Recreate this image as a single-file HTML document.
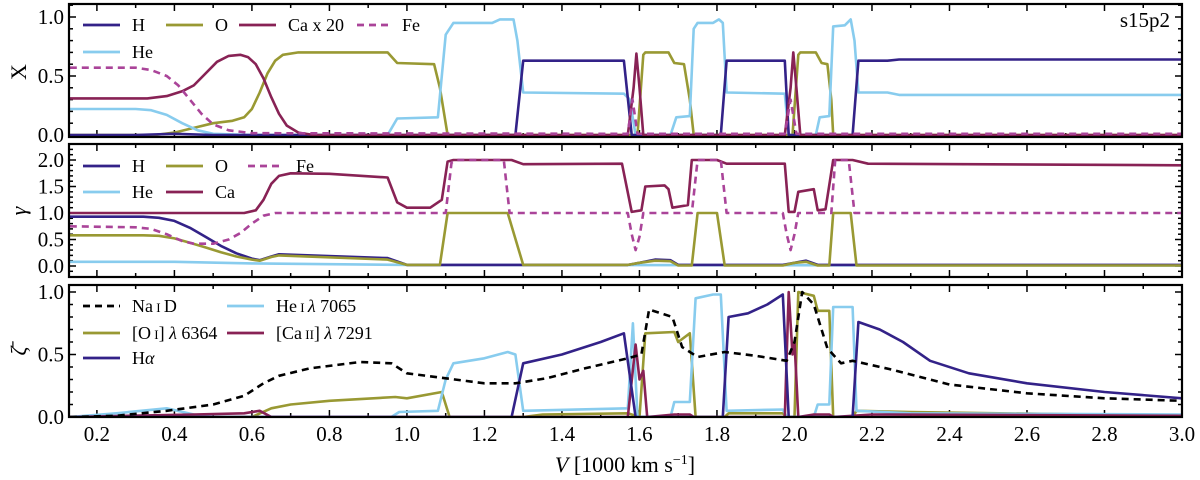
<!DOCTYPE html>
<html><head><meta charset="utf-8">
<style>
html,body{margin:0;padding:0;background:#fff;}
svg{display:block;font-family:"Liberation Serif","DejaVu Serif",serif;}
</style></head>
<body>
<svg id="chart" width="1200" height="480" viewBox="0 0 1200 480" xmlns="http://www.w3.org/2000/svg">
<g id="plot"></g>
</svg>
<script>
// ---------- data (V in 1000 km/s, values) ----------
const xTicks = [0.2,0.4,0.6,0.8,1.0,1.2,1.4,1.6,1.8,2.0,2.2,2.4,2.6,2.8,3.0];
const xTickLabels = ["0.2","0.4","0.6","0.8","1.0","1.2","1.4","1.6","1.8","2.0","2.2","2.4","2.6","2.8","3.0"];
const yTicksX = [0.0,0.5,1.0];
const yTicksG = [0.0,0.5,1.0,1.5,2.0];
const yTicksZ = [0.0,0.5,1.0];

// Panel 1: mass fractions X
const xH  = [[0.13,0],[0.3,0],[0.4,0.01],[0.5,0],[1.28,0],[1.30,0.63],[1.56,0.63],[1.58,0],[1.81,0],[1.825,0.63],[1.975,0.63],[1.985,0],[2.15,0],[2.165,0.63],[2.24,0.63],[2.27,0.64],[3.0,0.64]];
const xHe = [[0.13,0.22],[0.3,0.22],[0.34,0.21],[0.38,0.17],[0.42,0.1],[0.46,0.04],[0.5,0.01],[0.6,0],[0.95,0],[0.975,0.14],[1.08,0.15],[1.10,0.85],[1.12,0.95],[1.22,0.95],[1.24,0.98],[1.275,0.98],[1.285,0.8],[1.30,0.36],[1.56,0.35],[1.575,0.3],[1.59,0],[1.68,0],[1.695,0.15],[1.73,0.16],[1.74,0.9],[1.75,0.95],[1.79,0.95],[1.805,0.98],[1.815,0.95],[1.825,0.36],[1.975,0.35],[1.985,0],[2.055,0],[2.065,0.15],[2.09,0.16],[2.10,0.92],[2.13,0.93],[2.145,0.98],[2.155,0.8],[2.165,0.36],[2.24,0.36],[2.27,0.34],[3.0,0.34]];
const xO  = [[0.13,0],[0.35,0],[0.4,0.02],[0.45,0.06],[0.5,0.1],[0.55,0.12],[0.58,0.15],[0.6,0.22],[0.62,0.36],[0.64,0.52],[0.66,0.63],[0.68,0.68],[0.72,0.7],[0.95,0.7],[0.975,0.61],[1.07,0.6],[1.085,0.4],[1.105,0],[1.595,0],[1.61,0.68],[1.615,0.7],[1.675,0.7],[1.69,0.61],[1.715,0.6],[1.73,0.3],[1.74,0],[1.995,0],[2.01,0.68],[2.015,0.7],[2.055,0.7],[2.07,0.61],[2.085,0.6],[2.095,0.3],[2.10,0],[3.0,0]];
const xCa = [[0.13,0.31],[0.33,0.31],[0.38,0.33],[0.42,0.37],[0.45,0.42],[0.48,0.52],[0.51,0.62],[0.54,0.67],[0.57,0.68],[0.59,0.66],[0.61,0.6],[0.63,0.48],[0.65,0.32],[0.67,0.18],[0.69,0.08],[0.72,0.02],[0.76,0],[1.57,0],[1.585,0.4],[1.592,0.69],[1.60,0.4],[1.61,0],[1.975,0],[1.99,0.4],[1.997,0.7],[2.005,0.4],[2.015,0],[3.0,0]];
const xFe = [[0.13,0.57],[0.3,0.57],[0.34,0.55],[0.38,0.5],[0.41,0.42],[0.44,0.3],[0.47,0.18],[0.5,0.09],[0.54,0.04],[0.6,0.015],[1.57,0.01],[1.582,0.3],[1.595,0.01],[1.975,0.01],[1.99,0.3],[2.005,0.01],[3.0,0.01]];

// Panel 2: gamma
const gH  = [[0.13,0.93],[0.32,0.93],[0.36,0.91],[0.4,0.85],[0.44,0.72],[0.48,0.55],[0.52,0.38],[0.56,0.24],[0.6,0.14],[0.62,0.11],[0.65,0.18],[0.67,0.22],[0.95,0.15],[1.0,0.02],[1.57,0.02],[1.6,0.06],[1.64,0.12],[1.68,0.11],[1.7,0.02],[1.97,0.02],[2.0,0.06],[2.03,0.1],[2.06,0.02],[3.0,0.02]];
const gHe = [[0.13,0.08],[0.4,0.08],[0.6,0.05],[1.0,0.02],[3.0,0.01]];
const gO  = [[0.13,0.58],[0.32,0.58],[0.36,0.57],[0.4,0.52],[0.44,0.44],[0.48,0.35],[0.52,0.26],[0.56,0.18],[0.6,0.12],[0.62,0.1],[0.65,0.17],[0.67,0.2],[0.95,0.12],[1.0,0.02],[1.085,0.02],[1.105,1.0],[1.26,1.0],[1.30,0.02],[1.57,0.02],[1.6,0.06],[1.64,0.1],[1.68,0.09],[1.70,0.01],[1.735,0.01],[1.75,1.0],[1.80,1.0],[1.82,0.01],[1.97,0.01],[2.0,0.06],[2.03,0.08],[2.06,0.01],[2.09,0.01],[2.10,1.0],[2.145,1.0],[2.16,0.01],[3.0,0.01]];
const gCa = [[0.13,1.0],[0.58,1.0],[0.61,1.05],[0.63,1.25],[0.65,1.55],[0.67,1.7],[0.7,1.75],[0.8,1.74],[0.95,1.67],[0.975,1.2],[1.0,1.1],[1.06,1.1],[1.09,1.25],[1.105,1.97],[1.12,2.0],[1.27,2.0],[1.30,1.92],[1.555,1.93],[1.58,1.02],[1.605,1.05],[1.615,1.5],[1.665,1.52],[1.675,1.45],[1.685,1.1],[1.725,1.15],[1.735,2.0],[1.80,2.0],[1.825,1.93],[1.975,1.93],[1.985,1.02],[2.0,1.02],[2.01,1.4],[2.05,1.45],[2.06,1.05],[2.08,1.07],[2.10,2.0],[2.15,2.0],[2.19,1.93],[3.0,1.9]];
const gFe = [[0.13,0.75],[0.3,0.73],[0.34,0.7],[0.38,0.6],[0.42,0.47],[0.45,0.42],[0.5,0.42],[0.54,0.5],[0.57,0.62],[0.6,0.8],[0.63,0.95],[0.66,1.0],[1.10,1.0],[1.115,1.95],[1.13,2.0],[1.25,2.0],[1.265,1.0],[1.57,1.0],[1.58,0.6],[1.59,0.3],[1.60,0.55],[1.61,1.0],[1.735,1.0],[1.75,2.0],[1.81,2.0],[1.825,1.0],[1.97,1.0],[1.98,0.6],[1.99,0.3],[2.0,0.6],[2.01,1.0],[2.095,1.0],[2.105,2.0],[2.14,2.0],[2.155,1.0],[3.0,1.0]];

// Panel 3: zeta
const zNa  = [[0.13,0],[0.25,0.01],[0.38,0.05],[0.5,0.1],[0.58,0.17],[0.63,0.27],[0.67,0.33],[0.75,0.39],[0.88,0.44],[0.96,0.43],[1.0,0.35],[1.1,0.31],[1.2,0.27],[1.28,0.27],[1.36,0.31],[1.46,0.39],[1.57,0.47],[1.605,0.5],[1.625,0.86],[1.685,0.8],[1.71,0.56],[1.75,0.48],[1.82,0.52],[1.9,0.49],[1.98,0.45],[2.0,0.6],[2.02,1.0],[2.05,0.9],[2.085,0.55],[2.12,0.43],[2.15,0.45],[2.25,0.38],[2.4,0.26],[2.6,0.19],[2.8,0.15],[3.0,0.13]];
const zHe  = [[0.13,0],[0.25,0.03],[0.38,0.07],[0.45,0.02],[0.5,0],[0.96,0],[0.98,0.04],[1.08,0.05],[1.10,0.3],[1.12,0.43],[1.2,0.47],[1.26,0.52],[1.28,0.5],[1.30,0.05],[1.57,0.07],[1.583,0.75],[1.595,0],[1.68,0],[1.69,0.12],[1.73,0.12],[1.745,0.95],[1.79,0.98],[1.81,0.98],[1.825,0.05],[1.97,0.06],[1.98,0],[2.05,0],[2.06,0.1],[2.09,0.1],[2.10,0.88],[2.15,0.88],[2.16,0.05],[2.3,0.03],[3.0,0.02]];
const zO   = [[0.13,0],[0.6,0],[0.65,0.07],[0.7,0.1],[0.8,0.13],[0.97,0.16],[1.0,0.15],[1.09,0.2],[1.11,0],[1.3,0],[1.35,0.02],[1.57,0.03],[1.6,0],[1.615,0.67],[1.69,0.68],[1.70,0.6],[1.73,0.67],[1.745,0],[1.82,0],[1.83,0.03],[1.97,0.03],[1.98,0],[2.0,0],[2.01,1.0],[2.05,0.97],[2.06,0.85],[2.09,0.85],[2.10,0],[2.15,0],[2.16,0.05],[2.3,0.04],[3.0,0.01]];
const zCa  = [[0.13,0],[0.45,0.02],[0.58,0.03],[0.62,0.05],[0.65,0],[1.57,0],[1.59,0.58],[1.60,0.3],[1.61,0.37],[1.62,0],[1.69,0.02],[1.73,0.02],[1.74,0],[1.975,0],[1.985,1.0],[1.995,0.5],[2.0,0.6],[2.01,0],[2.05,0.02],[2.09,0.02],[2.10,0],[2.2,0.02],[3.0,0.01]];
const zHa  = [[0.13,0],[1.27,0],[1.30,0.43],[1.4,0.5],[1.5,0.6],[1.56,0.67],[1.59,0],[1.815,0],[1.83,0.8],[1.88,0.83],[1.93,0.9],[1.97,0.98],[1.985,0],[2.15,0],[2.165,0.76],[2.22,0.7],[2.28,0.6],[2.35,0.45],[2.45,0.35],[2.6,0.27],[2.8,0.2],[3.0,0.15]];

// ---------- layout ----------
const NS="http://www.w3.org/2000/svg";
const L=69,R=1182;
const xmin=0.128,xmax=3.0;
function xs(v){return L+(v-xmin)/(xmax-xmin)*(R-L);}
const panels=[
 {name:"x-panel",top:4,bot:137,y0:135,k:118,ticks:yTicksX,lab:v=>v.toFixed(1),minor:0.1,ylo:-0.017,yhi:1.1},
 {name:"gamma-panel",top:144,bot:277,y0:266,k:53,ticks:yTicksG,lab:v=>v.toFixed(1),minor:0.1,ylo:-0.2,yhi:2.3},
 {name:"zeta-panel",top:285,bot:417,y0:417,k:125,ticks:yTicksZ,lab:v=>v.toFixed(1),minor:0.1,ylo:0,yhi:1.05}
];
const C={H:"#332288",He:"#88CCEE",O:"#999933",Ca:"#882255",Fe:"#AA4499",Na:"#000000"};
const g=document.getElementById("plot");
function el(t,a,p){const e=document.createElementNS(NS,t);for(const k in a)e.setAttribute(k,a[k]);(p||g).appendChild(e);return e;}

panels.forEach((P,pi)=>{
  const ys=v=>P.y0-v*P.k;
  const pg=el("g",{});
  
  
  const clipId="clip"+pi;
  const cp=el("clipPath",{id:clipId},pg);
  el("rect",{x:L,y:P.top,width:R-L,height:P.bot-P.top},cp);
  P.ys=ys;P.g=pg;P.clip=clipId;
  for(let v=0.2;v<=3.0001;v+=0.1){
    const major=Math.abs(v*10%2)<0.01||Math.abs(v*10%2-2)<0.01;
    const x=xs(v),len=major?7:4;
    el("line",{x1:x,x2:x,y1:P.bot,y2:P.bot-len,stroke:"#000","stroke-width":1.5},pg);
    el("line",{x1:x,x2:x,y1:P.top,y2:P.top+len,stroke:"#000","stroke-width":1.5},pg);
  }
  for(let v=Math.ceil(P.ylo*10)/10;v<=P.yhi+1e-6;v+=P.minor){
    const y=ys(v);
    if(y<P.top+1||y>P.bot-0.5)continue;
    const major=P.ticks.some(t=>Math.abs(t-v)<1e-6);
    const len=major?7:4;
    el("line",{x1:L,x2:L+len,y1:y,y2:y,stroke:"#000","stroke-width":1.5},pg);
    el("line",{x1:R,x2:R-len,y1:y,y2:y,stroke:"#000","stroke-width":1.5},pg);
  }
  P.ticks.forEach(t=>{
    const tx=el("text",{x:L-5,y:ys(t)+7,"text-anchor":"end","font-size":21,fill:"#000"},pg);
    tx.textContent=P.lab(t);
    
    
  });
});

function series(P,data,color,name,dashed){
  const d=data.map((p,i)=>(i?"L":"M")+xs(p[0]).toFixed(1)+","+P.ys(p[1]).toFixed(1)).join("");
  const a={d:d,fill:"none",stroke:color,"stroke-width":2.6,"stroke-linejoin":"round","clip-path":"url(#"+P.clip+")"};
  if(dashed)a["stroke-dasharray"]="7,5";
  const p=el("path",a,P.g);
  
  
}
const [P1,P2,P3]=panels;
series(P1,xO,C.O,"x-o-line");
series(P1,xHe,C.He,"x-he-line");
series(P1,xH,C.H,"x-h-line");
series(P1,xCa,C.Ca,"x-ca-line");
series(P1,xFe,C.Fe,"x-fe-line",true);
series(P2,gHe,C.He,"gamma-he-line");
series(P2,gH,C.H,"gamma-h-line");
series(P2,gO,C.O,"gamma-o-line");
series(P2,gCa,C.Ca,"gamma-ca-line");
series(P2,gFe,C.Fe,"gamma-fe-line",true);
series(P3,zO,C.O,"zeta-oi-line");
series(P3,zHe,C.He,"zeta-hei-line");
series(P3,zCa,C.Ca,"zeta-caii-line");
series(P3,zHa,C.H,"zeta-halpha-line");
series(P3,zNa,C.Na,"zeta-naid-line",true);

panels.forEach(P=>{
  const r=el("rect",{x:L,y:P.top,width:R-L,height:P.bot-P.top,fill:"none",stroke:"#000","stroke-width":2.2},P.g);
  
  
});
xTicks.forEach((v,i)=>{
  const t=el("text",{x:xs(v),y:441,"text-anchor":"middle","font-size":21,fill:"#000"});
  t.textContent=xTickLabels[i];
  
  
});

function legend(items,name){
  const lg=el("g",{});
  
  
  items.forEach(it=>{
    const a={x1:it[0],x2:it[1],y1:it[2],y2:it[2],stroke:it[4],"stroke-width":2.8};
    if(it[5])a["stroke-dasharray"]="7,5";
    el("line",a,lg);
    const t=el("text",{x:it[1]+12,y:it[2]+6,"font-size":18,fill:"#000"},lg);
    t.innerHTML=it[3];
    
    
  });
}
legend([[83,120,25,"H",C.H],[166,203,25,"O",C.O],[239,276,25,"Ca x 20",C.Ca],[357,390,25,"Fe",C.Fe,1],[83,120,52,"He",C.He]],"x-legend");
legend([[83,120,166,"H",C.H],[166,203,166,"O",C.O],[248,284,166,"Fe",C.Fe,1],[83,120,192,"He",C.He],[166,203,192,"Ca",C.Ca]],"gamma-legend");
legend([[83,120,306,"Na<tspan font-size='13'> I </tspan>D",C.Na,1],[227,264,306,"He<tspan font-size='13'> I </tspan><tspan font-style='italic'>λ</tspan> 7065",C.He],
        [83,120,333,"[O<tspan font-size='13'> I</tspan>] <tspan font-style='italic'>λ</tspan> 6364",C.O],[227,264,333,"[Ca<tspan font-size='13'> II</tspan>] <tspan font-style='italic'>λ</tspan> 7291",C.Ca],
        [83,120,358,"H<tspan font-style='italic'>α</tspan>",C.H]],"zeta-legend");

const svg=document.getElementById("chart");
function lab(txt,x,y,rot,name,italic){
  const t=document.createElementNS(NS,"text");
  t.setAttribute("x",x);t.setAttribute("y",y);t.setAttribute("font-size",22);
  t.setAttribute("text-anchor","middle");
  if(italic)t.setAttribute("font-style","italic");
  if(rot)t.setAttribute("transform","rotate(-90 "+x+" "+y+")");
  t.innerHTML=txt;
  
  
  svg.appendChild(t);
}
lab("X",26,72,true,"x-panel-y-title");
lab("γ",26,211,true,"gamma-panel-y-title",true);
lab("ζ̄",26,351,true,"zeta-panel-y-title",true);
lab("<tspan font-style='italic'>V</tspan> [1000 km s<tspan dy='-8' font-size='14'>−1</tspan><tspan dy='8'>]</tspan>",625,472,false,"x-axis-title");
const s=document.createElementNS(NS,"text");
s.setAttribute("x",1170);s.setAttribute("y",27);s.setAttribute("font-size",21);s.setAttribute("text-anchor","end");
s.textContent="s15p2";


svg.appendChild(s);
</script>
</body></html>
